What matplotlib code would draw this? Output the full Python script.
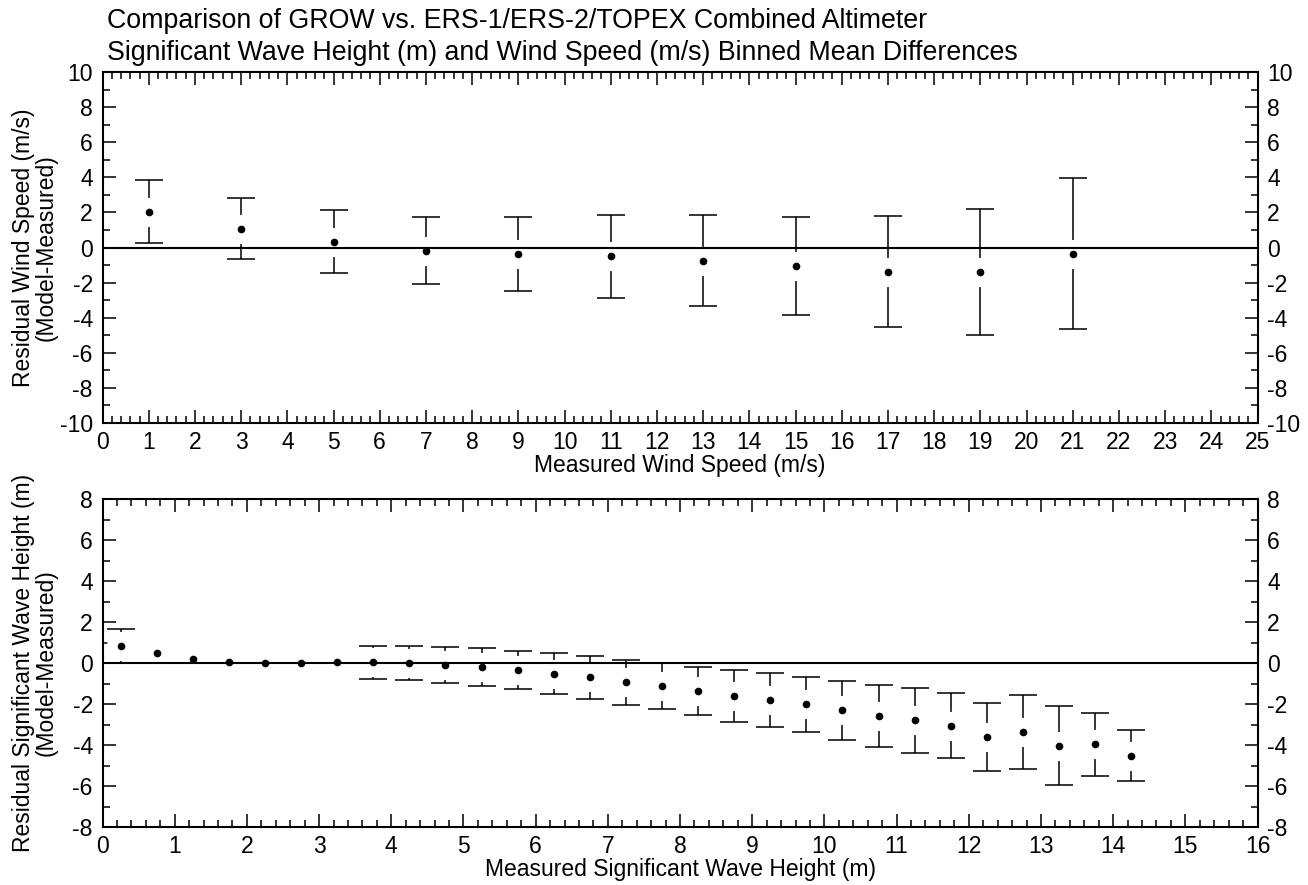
import matplotlib
matplotlib.use("Agg")
import numpy as np
import matplotlib.pyplot as plt
from matplotlib.ticker import MultipleLocator

# ─── DATA ────────────────────────────────────────────────────────────────────
# wind speed bins (m/s): binned mean residual and standard deviation
ws_bins = [1, 3, 5, 7, 9, 11, 13, 15, 17, 19, 21]
ws_mean = [2.05, 1.08, 0.34, -0.19, -0.38, -0.51, -0.76, -1.06, -1.39, -1.39, -0.36]
ws_std  = [1.77, 1.76, 1.78, 1.91, 2.10, 2.39, 2.59, 2.79, 3.16, 3.61, 4.30]

# significant wave height bins (m); no spread plotted for 0.75-3.25 m
hs_bins = [0.25, 0.75, 1.25, 1.75, 2.25, 2.75, 3.25, 3.75, 4.25, 4.75,
           5.25, 5.75, 6.25, 6.75, 7.25, 7.75, 8.25, 8.75, 9.25, 9.75,
           10.25, 10.75, 11.25, 11.75, 12.25, 12.75, 13.25, 13.75, 14.25]
hs_mean = [0.83, 0.49, 0.20, 0.03, 0.02, 0.02, 0.03, 0.03, -0.02, -0.10,
           -0.20, -0.34, -0.52, -0.70, -0.93, -1.12, -1.37, -1.61, -1.82, -2.00,
           -2.31, -2.57, -2.80, -3.05, -3.61, -3.35, -4.03, -3.97, -4.52]
hs_std  = [0.82, None, None, None, None, None, None, 0.79, 0.83, 0.89,
           0.91, 0.95, 0.99, 1.04, 1.10, 1.11, 1.18, 1.28, 1.31, 1.34,
           1.45, 1.52, 1.57, 1.60, 1.64, 1.80, 1.93, 1.53, 1.25]

TITLE_1 = "Comparison of GROW vs. ERS-1/ERS-2/TOPEX Combined Altimeter"
TITLE_2 = "Significant Wave Height (m) and Wind Speed (m/s) Binned Mean Differences"

# ─── STYLE ───────────────────────────────────────────────────────────────────
plt.rcParams['font.family'] = ['Liberation Sans Narrow', 'Liberation Sans', 'DejaVu Sans']
plt.rcParams['axes.unicode_minus'] = False
TICK_FS  = 16.5
LABEL_FS = 16.5
TITLE_FS = 19.3


def style_axis(ax, xmax, xminor, ymax):
    ax.set_xlim(0, xmax)
    ax.set_ylim(-ymax, ymax)
    ax.xaxis.set_major_locator(MultipleLocator(1))
    ax.xaxis.set_minor_locator(MultipleLocator(xminor))
    ax.yaxis.set_major_locator(MultipleLocator(2))
    ax.yaxis.set_minor_locator(MultipleLocator(1))
    ax.tick_params(which='both', direction='in', top=True, right=True,
                   labelright=True, width=1.1, labelsize=TICK_FS)
    ax.tick_params(which='major', length=9.5)
    ax.tick_params(which='minor', length=5)
    ax.tick_params(axis='x', pad=6)
    ax.tick_params(axis='y', which='both', pad=7)
    for s in ax.spines.values():
        s.set_linewidth(1.5)


def draw_bins(ax, x, mean, std):
    x = np.asarray(x, float)
    mean = np.asarray(mean, float)
    std = np.array([np.nan if s is None else s for s in std], float)
    ok = np.isfinite(std)
    ax.errorbar(x[ok], mean[ok], yerr=std[ok], fmt='none', ecolor='black',
                elinewidth=1.1, capsize=10, capthick=1.1, zorder=2)
    # white disc leaves a gap in each bar around the mean
    ax.plot(x, mean, 'o', ms=21, mfc='white', mec='none', zorder=3)
    ax.axhline(0, color='black', lw=1.5, zorder=4)
    ax.plot(x, mean, 'o', ms=4.5, color='black', zorder=5)


fig = plt.figure(figsize=(13.08, 8.85), dpi=100)
ax1 = fig.add_axes([0.0784, 0.522, 0.883, 0.3966])
ax2 = fig.add_axes([0.0784, 0.0655, 0.883, 0.3706])

# ─── WIND SPEED PANEL ────────────────────────────────────────────────────────
draw_bins(ax1, ws_bins, ws_mean, ws_std)
style_axis(ax1, 25, 0.2, 10)
ax1.set_xlabel('Measured Wind Speed (m/s)', fontsize=LABEL_FS, labelpad=0)

# ─── WAVE HEIGHT PANEL ───────────────────────────────────────────────────────
draw_bins(ax2, hs_bins, hs_mean, hs_std)
style_axis(ax2, 16, 0.2, 8)
ax2.set_xlabel('Measured Significant Wave Height (m)', fontsize=LABEL_FS, labelpad=0)

fig.text(35 / 1308, 1 - 247.5 / 885, 'Residual Wind Speed (m/s)\n(Model-Measured)',
         rotation=90, ha='center', va='center', multialignment='center',
         fontsize=LABEL_FS, linespacing=1.0)
fig.text(35 / 1308, 1 - 663 / 885, 'Residual Significant Wave Height (m)\n(Model-Measured)',
         rotation=90, ha='center', va='center', multialignment='center',
         fontsize=LABEL_FS, linespacing=1.0)

# two title lines, baselines set separately
fig.text(107 / 1308, 1 - 28 / 885, TITLE_1, ha='left', va='baseline', fontsize=TITLE_FS)
fig.text(107 / 1308, 1 - 60 / 885, TITLE_2, ha='left', va='baseline', fontsize=TITLE_FS)

fig.savefig('out.png', dpi=100)
